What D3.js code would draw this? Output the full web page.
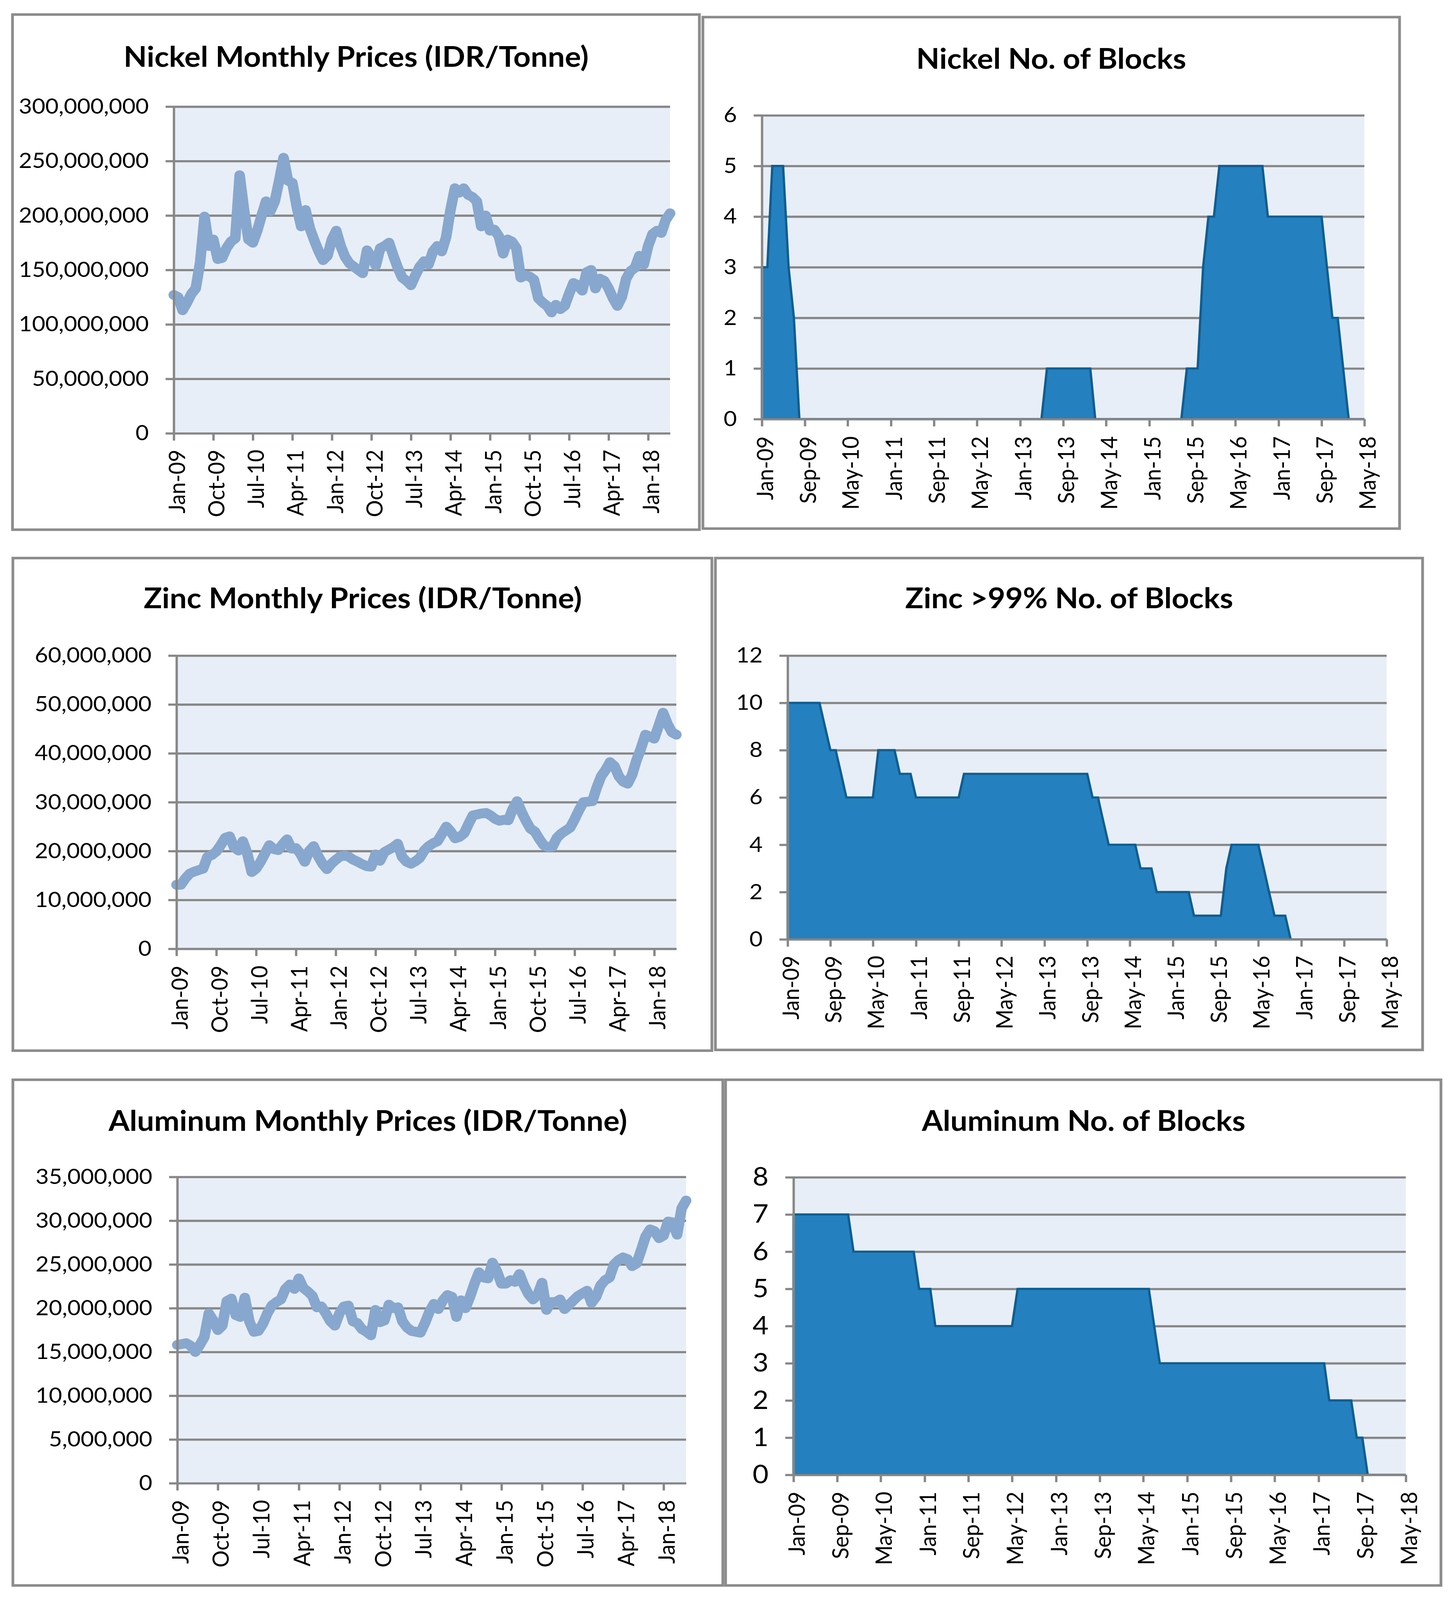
<!DOCTYPE html>
<html>
<head>
<meta charset="utf-8">
<script src="https://cdn.jsdelivr.net/npm/d3@7"></script>
<style>
  html, body { margin: 0; padding: 0; background: #ffffff; overflow: hidden; width: 100%; height: 100%; }
  #chart { display: block; width: 100vw; height: 100vh; }
</style>
</head>
<body>
<svg id="chart" viewBox="0 0 3726 4398" preserveAspectRatio="none"></svg>
<script>
// ---------------- DATA ----------------
const UNIT = 1e6; // price arrays are in millions of IDR per tonne

// Monthly prices, Jan-09 .. Jun-18 (114 months)
const nickelPrice = [
  127,125,113,120,128,133,157,199,172,178,
  160,161,170,176,179,237,205,178,175,186,
  200,213,204,213,232,253,232,230,208,190,
  205,188,177,167,159,163,178,186,172,162,
  156,153,150,147,168,162,154,170,172,175,
  163,152,143,140,136,145,153,158,155,167,
  172,167,180,205,225,221,225,219,217,213,
  190,200,186,187,181,165,178,176,170,143,
  145,144,141,124,120,117,111,118,114,117,
  128,138,136,131,148,150,133,142,140,133,
  124,117,125,142,149,152,163,155,172,183,
  186,184,196,202
];
const zincPrice = [
  13.1,13.1,14.4,15.4,15.8,16.1,16.4,18.8,19.2,19.9,
  21.2,22.7,23.0,20.8,20.1,22.0,19.5,15.7,16.4,17.8,
  19.5,21.2,20.4,20.2,21.4,22.4,20.5,20.6,19.5,17.8,
  20.0,21.0,19.0,17.4,16.3,17.4,18.2,18.9,19.1,18.8,
  18.2,17.8,17.3,16.9,16.8,19.3,18.0,19.8,20.3,20.8,
  21.5,18.8,17.8,17.4,17.9,18.6,20.1,21.0,21.6,22.0,
  23.5,25.0,24.0,22.6,22.9,23.6,25.5,27.3,27.5,27.7,
  27.8,27.3,26.6,26.2,26.4,26.3,28.6,30.2,28.0,26.2,
  24.6,24.0,22.5,21.2,20.8,20.9,22.7,23.6,24.2,24.8,
  26.5,28.4,30.0,30.1,30.2,33.0,35.3,36.6,38.2,37.4,
  35.3,34.2,33.8,35.6,38.6,41.0,43.8,43.4,43.0,45.6,
  48.3,46.0,44.3,43.8
];
const aluminumPrice = [
  15.8,15.9,16.0,15.7,15.0,15.8,16.7,19.4,18.6,17.5,
  18.0,20.8,21.1,19.2,19.0,21.2,18.5,17.3,17.4,18.2,
  19.4,20.3,20.7,21.0,22.2,22.7,22.2,23.4,22.3,21.9,
  21.4,20.1,20.2,19.4,18.5,18.0,19.4,20.2,20.3,18.5,
  18.3,17.6,17.3,16.9,19.8,18.4,18.6,20.4,20.0,20.1,
  18.5,17.8,17.4,17.3,17.2,18.3,19.6,20.5,19.9,20.9,
  21.5,21.3,19.0,20.9,20.0,21.3,22.8,24.1,23.5,23.4,
  25.2,24.2,22.8,22.8,23.2,23.0,23.9,22.6,21.6,21.0,
  21.5,22.9,19.8,20.7,20.7,21.0,19.9,20.4,20.9,21.4,
  21.7,22.0,20.6,21.3,22.6,23.2,23.5,25.0,25.5,25.8,
  25.6,24.8,25.1,26.6,28.2,29.0,28.8,28.0,28.3,29.9,
  29.8,28.4,31.4,32.3
];

// Monthly number of blocks, Jan-09 .. May-18 (113 months)
const nickelBlocks = [
  3,3,5,5,5,3,2,0,0,0,
  0,0,0,0,0,0,0,0,0,0,
  0,0,0,0,0,0,0,0,0,0,
  0,0,0,0,0,0,0,0,0,0,
  0,0,0,0,0,0,0,0,0,0,
  0,0,0,1,1,1,1,1,1,1,
  1,1,0,0,0,0,0,0,0,0,
  0,0,0,0,0,0,0,0,0,1,
  1,1,3,4,4,5,5,5,5,5,
  5,5,5,5,4,4,4,4,4,4,
  4,4,4,4,4,3,2,2,1,0,
  0,0,0
];
const zincBlocks = [
  10,10,10,10,10,10,10,9,8,8,
  7,6,6,6,6,6,6,8,8,8,
  8,7,7,7,6,6,6,6,6,6,
  6,6,6,7,7,7,7,7,7,7,
  7,7,7,7,7,7,7,7,7,7,
  7,7,7,7,7,7,7,6,6,5,
  4,4,4,4,4,4,3,3,3,2,
  2,2,2,2,2,2,1,1,1,1,
  1,1,3,4,4,4,4,4,4,3,
  2,1,1,1,0,0,0,0,0,0,
  0,0,0,0,0,0,0,0,0,0,
  0,0,0
];
const aluminumBlocks = [
  7,7,7,7,7,7,7,7,7,7,
  7,6,6,6,6,6,6,6,6,6,
  6,6,6,5,5,5,4,4,4,4,
  4,4,4,4,4,4,4,4,4,4,
  4,5,5,5,5,5,5,5,5,5,
  5,5,5,5,5,5,5,5,5,5,
  5,5,5,5,5,5,4,3,3,3,
  3,3,3,3,3,3,3,3,3,3,
  3,3,3,3,3,3,3,3,3,3,
  3,3,3,3,3,3,3,3,2,2,
  2,2,2,1,1,0,0,0,0,0,
  0,0,0
];

// Tick labels
const priceTickLabels = ["Jan-09","Oct-09","Jul-10","Apr-11","Jan-12","Oct-12","Jul-13",
                         "Apr-14","Jan-15","Oct-15","Jul-16","Apr-17","Jan-18"];
const blockTickLabels = ["Jan-09","Sep-09","May-10","Jan-11","Sep-11","May-12","Jan-13","Sep-13",
                         "May-14","Jan-15","Sep-15","May-16","Jan-17","Sep-17","May-18"];
const nickelPriceTicks = [0,50e6,100e6,150e6,200e6,250e6,300e6];
const zincPriceTicks = [0,10e6,20e6,30e6,40e6,50e6,60e6];
const aluminumPriceTicks = [0,5e6,10e6,15e6,20e6,25e6,30e6,35e6];
const nickelBlockTicks = [0,1,2,3,4,5,6];
const zincBlockTicks = [0,2,4,6,8,10,12];
const aluminumBlockTicks = [0,1,2,3,4,5,6,7,8];

const titles = {
  nickelPrice: "Nickel Monthly Prices (IDR/Tonne)",
  nickelBlocks: "Nickel No. of Blocks",
  zincPrice: "Zinc Monthly Prices (IDR/Tonne)",
  zincBlocks: "Zinc >99% No. of Blocks",
  aluminumPrice: "Aluminum Monthly Prices (IDR/Tonne)",
  aluminumBlocks: "Aluminum No. of Blocks"
};

// ---------------- STYLE / LAYOUT ----------------
const FONT = "Lato, 'Open Sans', 'DejaVu Sans', sans-serif";
const GRID = "#878787", BORDER = "#8c8c8c", PLOTBG = "#e8eef7";
const LINE = "#87a7ce", AREA = "#2580bf", AREASTROKE = "#0f5e91";

const layout = {
  nickelPrice:    {box:[32,40,1791,1456],   plot:[445,293,1716,1191],   title:[912,184],  gap:45, yScale:1},
  nickelBlocks:   {box:[1800,47,3584,1453], plot:[1951,317,3494,1152],  title:[2692,189], gap:47, yScale:1},
  zincPrice:      {box:[33,1534,1823,2888], plot:[452,1802,1732,2608],  title:[929,1672], gap:46, yScale:1},
  zincBlocks:     {box:[1832,1534,3643,2886], plot:[2017,1802,3551,2582], title:[2738,1672], gap:45, yScale:1},
  aluminumPrice:  {box:[33,2968,1851,4358], plot:[454,3235,1757,4077],  title:[942,3108], gap:46, yScale:1},
  aluminumBlocks: {box:[1858,2968,3690,4358], plot:[2032,3236,3600,4054], title:[2775,3108], gap:46, yScale:1.2}
};

const svg = d3.select("#chart");
svg.append("rect").attr("width",3726).attr("height",4398).attr("fill","#ffffff");

function measure(txt, size, weight) {
  const t = svg.append("text").attr("font-family", FONT).attr("font-size", size)
    .attr("font-weight", weight).text(txt);
  const w = t.node().getComputedTextLength();
  t.remove();
  return w;
}
const titleWidths = [["nickelPrice",1193],["nickelBlocks",677],["zincPrice",1120],
                     ["zincBlocks",814],["aluminumPrice",1340],["aluminumBlocks",830]];
const TITLE_SIZE = d3.median(titleWidths.map(([k,w]) => 100 * w / measure(titles[k], 100, 700)));
const TICK_SIZE = d3.median([["300,000,000",334],["60,000,000",298.5],["35,000,000",299]]
  .map(([t,w]) => 100 * w / measure(t, 100, 400)));

const monthFmt = d3.utcFormat("%b-%y");
const priceMonths = d3.utcMonths(new Date(Date.UTC(2009,0,1)), new Date(Date.UTC(2018,6,1)));
const blockMonths = d3.utcMonths(new Date(Date.UTC(2009,0,1)), new Date(Date.UTC(2018,5,1)));
const parseLabel = d3.utcParse("%b-%y");

function frame(key) {
  const L = layout[key];
  const [bx0, by0, bx1, by1] = L.box;
  svg.append("rect").attr("x", bx0).attr("y", by0).attr("width", bx1 - bx0).attr("height", by1 - by0)
    .attr("fill", "#ffffff").attr("stroke", BORDER).attr("stroke-width", 7);
  svg.append("text").attr("x", L.title[0]).attr("y", L.title[1]).attr("text-anchor", "middle")
    .attr("font-family", FONT).attr("font-weight", 700).attr("font-size", TITLE_SIZE)
    .attr("fill", "#000").text(titles[key]);
  const [x0, y0, x1, y1] = L.plot;
  svg.append("rect").attr("x", x0).attr("y", y0).attr("width", x1 - x0).attr("height", y1 - y0)
    .attr("fill", PLOTBG);
}

function styleAxis(g, fontSize) {
  g.attr("font-family", FONT).attr("font-size", fontSize).attr("color", GRID);
  g.selectAll("path.domain").attr("stroke", GRID).attr("stroke-width", 6);
  g.selectAll(".tick line").attr("stroke", GRID).attr("stroke-width", 6);
  g.selectAll(".tick text").attr("fill", "#000");
}

function drawAxes(key, x, y, yTicks, xTickValues, xFormat) {
  const L = layout[key];
  const [x0, y0, x1, y1] = L.plot;
  const gy = svg.append("g").attr("transform", `translate(${x0},0)`)
    .call(d3.axisLeft(y).tickValues(yTicks).tickFormat(d3.format(",")).tickSize(21).tickSizeOuter(0).tickPadding(43));
  styleAxis(gy, TICK_SIZE * L.yScale);
  const gx = svg.append("g").attr("transform", `translate(0,${y1})`)
    .call(d3.axisBottom(x).tickValues(xTickValues).tickFormat(xFormat).tickSize(20).tickSizeOuter(0));
  styleAxis(gx, TICK_SIZE);
  gx.selectAll(".tick text")
    .attr("transform", "rotate(-90)")
    .attr("text-anchor", "end")
    .attr("x", -L.gap).attr("y", 0).attr("dy", "0.48em");
}

function grid(key, y, yTicks) {
  const [x0, y0, x1, y1] = layout[key].plot;
  const g = svg.append("g").attr("transform", `translate(${x0},0)`)
    .call(d3.axisLeft(y).tickValues(yTicks.filter(v => v > 0)).tickSize(-(x1 - x0)).tickFormat(""));
  g.select("path.domain").remove();
  g.selectAll(".tick line").attr("stroke", GRID).attr("stroke-width", 6);
}

function pricePanel(key, values, yTicks) {
  frame(key);
  const [x0, y0, x1, y1] = layout[key].plot;
  const x = d3.scaleLinear().domain([0, values.length - 1]).range([x0, x1]);
  const y = d3.scaleLinear().domain([0, d3.max(yTicks)]).range([y1, y0]);
  grid(key, y, yTicks);
  const line = d3.line().x((d, i) => x(i)).y(d => y(d * UNIT));
  svg.append("path").datum(values).attr("d", line).attr("fill", "none")
    .attr("stroke", LINE).attr("stroke-width", 27)
    .attr("stroke-linejoin", "round").attr("stroke-linecap", "round");
  const tickIdx = priceTickLabels.map(lbl => priceMonths.findIndex(m => monthFmt(m) === lbl));
  drawAxes(key, x, y, yTicks, tickIdx, i => monthFmt(priceMonths[i]));
}

function blockPanel(key, values, yTicks) {
  frame(key);
  const [x0, y0, x1, y1] = layout[key].plot;
  const ticks = blockTickLabels.map(parseLabel);
  const x = d3.scaleUtc().domain([ticks[0], ticks[ticks.length - 1]]).range([x0, x1]);
  const y = d3.scaleLinear().domain([0, d3.max(yTicks)]).range([y1, y0]);
  grid(key, y, yTicks);
  const data = values.map((v, i) => ({date: blockMonths[i], v}));
  const area = d3.area().x(d => x(d.date)).y0(y(0)).y1(d => y(d.v));
  svg.append("path").datum(data).attr("d", area).attr("fill", AREA)
    .attr("stroke", AREASTROKE).attr("stroke-width", 6).attr("stroke-linejoin", "miter");
  drawAxes(key, x, y, yTicks, ticks, monthFmt);
}

pricePanel("nickelPrice", nickelPrice, nickelPriceTicks);
blockPanel("nickelBlocks", nickelBlocks, nickelBlockTicks);
pricePanel("zincPrice", zincPrice, zincPriceTicks);
blockPanel("zincBlocks", zincBlocks, zincBlockTicks);
pricePanel("aluminumPrice", aluminumPrice, aluminumPriceTicks);
blockPanel("aluminumBlocks", aluminumBlocks, aluminumBlockTicks);
</script>
</body>
</html>
